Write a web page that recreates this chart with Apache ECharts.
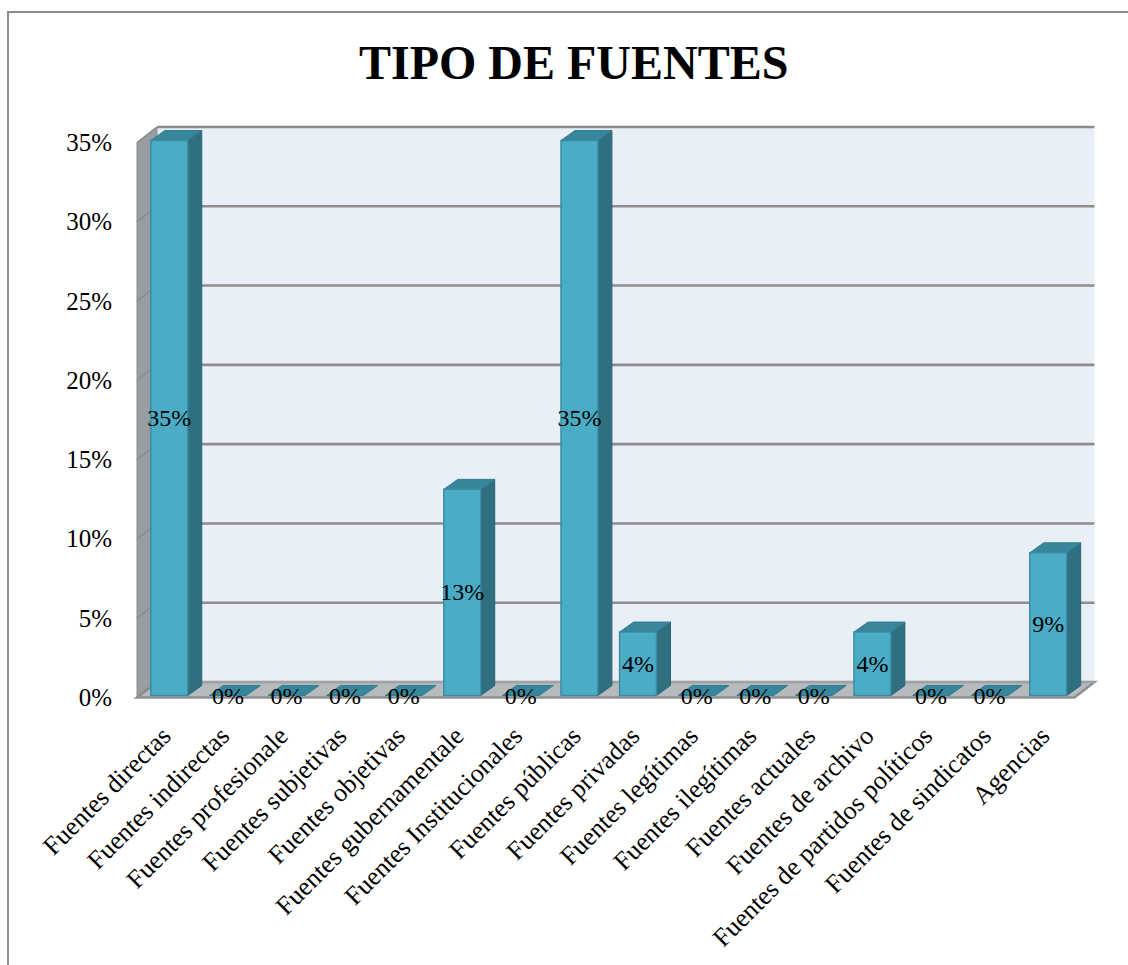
<!DOCTYPE html>
<html>
<head>
<meta charset="utf-8">
<script src="https://cdn.jsdelivr.net/npm/echarts@6/dist/echarts.min.js"></script>
<style>
html,body{margin:0;padding:0;background:#fff;}
#chart{width:1128px;height:965px;}
</style>
</head>
<body>
<div id="chart"></div>
<script>
const CATEGORIES = [
  'Fuentes directas','Fuentes indirectas','Fuentes profesionale','Fuentes subjetivas',
  'Fuentes objetivas','Fuentes gubernamentale','Fuentes Institucionales','Fuentes públicas',
  'Fuentes privadas','Fuentes legítimas','Fuentes ilegítimas','Fuentes actuales',
  'Fuentes de archivo','Fuentes de partidos políticos','Fuentes de sindicatos','Agencias'
];
const VALUES = [35, 0, 0, 0, 0, 13, 0, 35, 4, 0, 0, 0, 4, 0, 0, 9];
const Y_TICKS = [0, 5, 10, 15, 20, 25, 30, 35];
const TITLE = 'TIPO DE FUENTES';

// depth offsets (pixels) of the 3D look
const WALL_D = [20, -15.5];
const BAR_F = [3, -2];
const BAR_B = [17, -12];
const BAR_RATIO = 0.63;
const SERIF = '"Liberation Serif","Times New Roman",serif';

const chart = echarts.init(document.getElementById('chart'), null, {renderer: 'svg'});

function renderWalls(params, api) {
  const cs = params.coordSys;
  const x0 = cs.x, x1 = cs.x + cs.width;
  const yb = api.coord([0, 0])[1];
  const yt = api.coord([0, 35])[1];
  const dx = WALL_D[0], dy = WALL_D[1];
  return {
    type: 'group',
    children: [
      { type: 'rect', shape: {x: x0 + dx, y: yt + dy, width: x1 - x0, height: yb - yt},
        style: {fill: '#e9eff7', stroke: null} },
      { type: 'polygon', shape: {points: [[x0, yb], [x0, yt], [x0 + dx, yt + dy], [x0 + dx, yb + dy]]},
        style: {fill: '#989da1', stroke: '#868b8e', lineWidth: 1} },
      { type: 'polygon', shape: {points: [[x0, yb], [x1, yb], [x1 + dx, yb + dy], [x0 + dx, yb + dy]]},
        style: {fill: '#b6babd', stroke: '#8e9194', lineWidth: 2.5} }
    ]
  };
}

function renderGrid(params, api) {
  const cs = params.coordSys;
  const x0 = cs.x, x1 = cs.x + cs.width;
  const v = api.value(0);
  const y = api.coord([0, v])[1];
  const dx = WALL_D[0], dy = WALL_D[1];
  const children = [
    { type: 'line', shape: {x1: x0, y1: y, x2: x0 + dx, y2: y + dy},
      style: {stroke: '#84898c', lineWidth: 1.2} }
  ];
  if (v > 0) {
    children.push({ type: 'line', shape: {x1: x0 + dx, y1: y + dy, x2: x1 + dx, y2: y + dy},
      style: {stroke: '#8d8d8d', lineWidth: 2.6} });
  } else {
    children.push({ type: 'line', shape: {x1: x0 + dx, y1: y + dy, x2: x1 + dx, y2: y + dy},
      style: {stroke: '#a4a7aa', lineWidth: 1.5} });
  }
  return {type: 'group', children};
}

function renderBar(params, api) {
  const i = api.value(0), v = api.value(1);
  const p0 = api.coord([i, 0]);
  const p1 = api.coord([i, v]);
  const w = api.size([1, 0])[0] * BAR_RATIO;
  const fx = p0[0] + BAR_F[0];
  const fy0 = p0[1] + BAR_F[1];
  const fy1 = p1[1] + BAR_F[1];
  const L = fx - w / 2, R = fx + w / 2;
  const dx = BAR_B[0] - BAR_F[0], dy = BAR_B[1] - BAR_F[1];
  const children = [];
  if (v > 0) {
    children.push({ type: 'polygon', shape: {points: [[R, fy0], [R, fy1], [R + dx, fy1 + dy], [R + dx, fy0 + dy]]},
      style: {fill: '#2f6f80', stroke: '#2a6474', lineWidth: 1} });
  }
  children.push({ type: 'polygon', shape: {points: [[L, fy1], [R, fy1], [R + dx, fy1 + dy], [L + dx, fy1 + dy]]},
    style: {fill: '#37869b', stroke: '#337d91', lineWidth: 1} });
  if (v > 0) {
    children.push({ type: 'rect', shape: {x: L, y: fy1, width: w, height: fy0 - fy1},
      style: {fill: '#4bacc6', stroke: '#3a8ca3', lineWidth: 1.5} });
  }
  children.push({ type: 'text', x: fx, y: (fy0 + fy1) / 2,
    style: {text: v + '%', fill: '#000', font: '24px ' + SERIF, align: 'center', verticalAlign: 'middle'} });
  return {type: 'group', children};
}

chart.setOption({
  animation: false,
  backgroundColor: '#fff',
  title: {
    text: TITLE, left: 354, top: 33,
    textStyle: {fontFamily: SERIF, fontWeight: 'bold', fontSize: 48, color: '#000'}
  },
  graphic: [{
    type: 'rect', shape: {x: 8, y: 12, width: 1300, height: 1100},
    style: {fill: null, stroke: '#8c8c8c', lineWidth: 2}, silent: true, z: -10
  }],
  grid: {left: 137, right: 53.5, top: 142.5, bottom: 267.5, containLabel: false},
  xAxis: {
    type: 'category', data: CATEGORIES,
    axisLine: {show: false}, axisTick: {show: false}, splitLine: {show: false},
    axisLabel: {interval: 0, rotate: 45, margin: 34, fontFamily: SERIF, fontSize: 26, color: '#000'}
  },
  yAxis: {
    type: 'value', min: 0, max: 35, interval: 5,
    axisLine: {show: false}, axisTick: {show: false}, splitLine: {show: false},
    axisLabel: {formatter: '{value}%', margin: 25, fontFamily: SERIF, fontSize: 25, color: '#000'}
  },
  series: [
    { type: 'custom', renderItem: renderWalls, data: [[0]], silent: true, z: 1 },
    { type: 'custom', renderItem: renderGrid, data: Y_TICKS.map(v => [v]), silent: true, z: 2,
      encode: {y: 0} },
    { type: 'custom', renderItem: renderBar, data: VALUES.map((v, i) => [i, v]), z: 3,
      encode: {x: 0, y: 1} }
  ]
});
</script>
</body>
</html>
